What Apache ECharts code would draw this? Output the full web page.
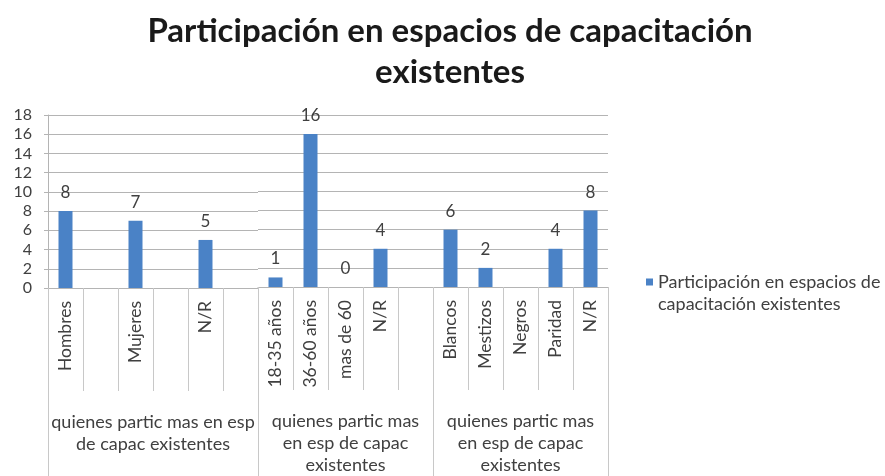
<!DOCTYPE html>
<html>
<head>
<meta charset="utf-8">
<script src="https://cdn.jsdelivr.net/npm/echarts@6/dist/echarts.min.js"></script>
<style>
  html, body { margin: 0; padding: 0; background: #ffffff; }
  #chart { width: 885px; height: 476px; }
</style>
</head>
<body>
<div id="chart"></div>
<script>
// ---- data ----
const chartTitle = 'Participación en espacios de capacitación\nexistentes';
const seriesName = 'Participación en espacios de capacitación existentes';
const legendText = 'Participación en espacios de\ncapacitación existentes';
const groupLabels = [
  'quienes partic mas en esp\nde capac existentes',
  'quienes partic mas\nen esp de capac\nexistentes',
  'quienes partic mas\nen esp de capac\nexistentes'
];
const categoriesGender = ['Hombres', '', 'Mujeres', ' ', 'N/R', '  '];
const valuesGender = [8, null, 7, null, 5, null];
const categoriesAge = ['18-35 años', '36-60 años', 'mas de 60', 'N/R', ''];
const valuesAge = [1, 16, 0, 4, null];
const categoriesEthnic = ['Blancos', 'Mestizos', 'Negros', 'Paridad', 'N/R'];
const valuesEthnic = [6, 2, null, 4, 8];
const yMin = 0, yMax = 18, yInterval = 2;

const groupCats = [categoriesGender, categoriesAge, categoriesEthnic];
const groupVals = [valuesGender, valuesAge, valuesEthnic];

// ---- layout ----
const font = 'Lato, "Open Sans", sans-serif';
const textColor = '#404040';
const gridColor = '#b4b4b4';
const barColor = '#4a82c6';
const catWidth = 35;
const plotLeft = 48, plotTop = 115, plotBottom = 476 - 288;

const grids = [], xAxes = [], yAxes = [], series = [];
let left = plotLeft;
groupCats.forEach((cats, gi) => {
  const w = cats.length * catWidth;
  grids.push({ left: left, width: w, top: plotTop, bottom: plotBottom, containLabel: false });
  left += w;
  // main category axis
  xAxes.push({
    type: 'category', gridIndex: gi, data: cats, position: 'bottom',
    axisLine: { show: true, lineStyle: { color: gridColor, width: 1 } },
    axisTick: { show: true, interval: 0, length: 103, lineStyle: { color: '#c8c8c8' } },
    axisLabel: { interval: 0, rotate: 90, margin: 13, fontSize: 17.5, color: textColor, fontFamily: font }
  });
  // group axis
  xAxes.push({
    type: 'category', gridIndex: gi, data: [groupLabels[gi]], position: 'bottom', offset: 0,
    axisLine: { show: false },
    axisTick: { show: true, interval: 0, length: 192, lineStyle: { color: '#c8c8c8' } },
    axisLabel: { interval: 0, margin: 123, fontSize: 18, lineHeight: 22, color: textColor, fontFamily: font, align: 'center' }
  });
  yAxes.push({
    type: 'value', gridIndex: gi, min: yMin, max: yMax, interval: yInterval,
    axisLine: { show: gi === 0, lineStyle: { color: gridColor } },
    axisTick: { show: gi === 0, length: 4, lineStyle: { color: gridColor } },
    axisLabel: { show: gi === 0, fontSize: 16, color: textColor, fontFamily: font, margin: 16 },
    splitLine: { show: true, lineStyle: { color: gridColor, width: 1 } }
  });
  series.push({
    name: seriesName, type: 'bar', xAxisIndex: gi * 2, yAxisIndex: gi,
    data: groupVals[gi], barWidth: 14,
    itemStyle: { color: barColor },
    label: { show: true, position: 'top', distance: 10, fontSize: 17, color: textColor, fontFamily: font }
  });
});

const chart = echarts.init(document.getElementById('chart'), null, { renderer: 'canvas' });
chart.setOption({
  animation: false,
  backgroundColor: '#ffffff',
  title: {
    text: chartTitle, left: 445, top: 6, textAlign: 'center',
    textStyle: { fontSize: 33, fontWeight: 'bold', color: '#1a1a1a', fontFamily: font, lineHeight: 41 }
  },
  legend: {
    orient: 'vertical', left: 641, top: 266,
    // square at top of a 7x29 box so it lines up with the first text line
    icon: 'path://M0,0h7v7h-7z M3.45,28.95h0.1v0.05h-0.1z',
    itemWidth: 7, itemHeight: 29, itemGap: 7,
    formatter: () => legendText,
    textStyle: { fontSize: 18, lineHeight: 22, color: textColor, fontFamily: font },
    data: [seriesName]
  },
  grid: grids,
  xAxis: xAxes,
  yAxis: yAxes,
  series: series
});
</script>
</body>
</html>
